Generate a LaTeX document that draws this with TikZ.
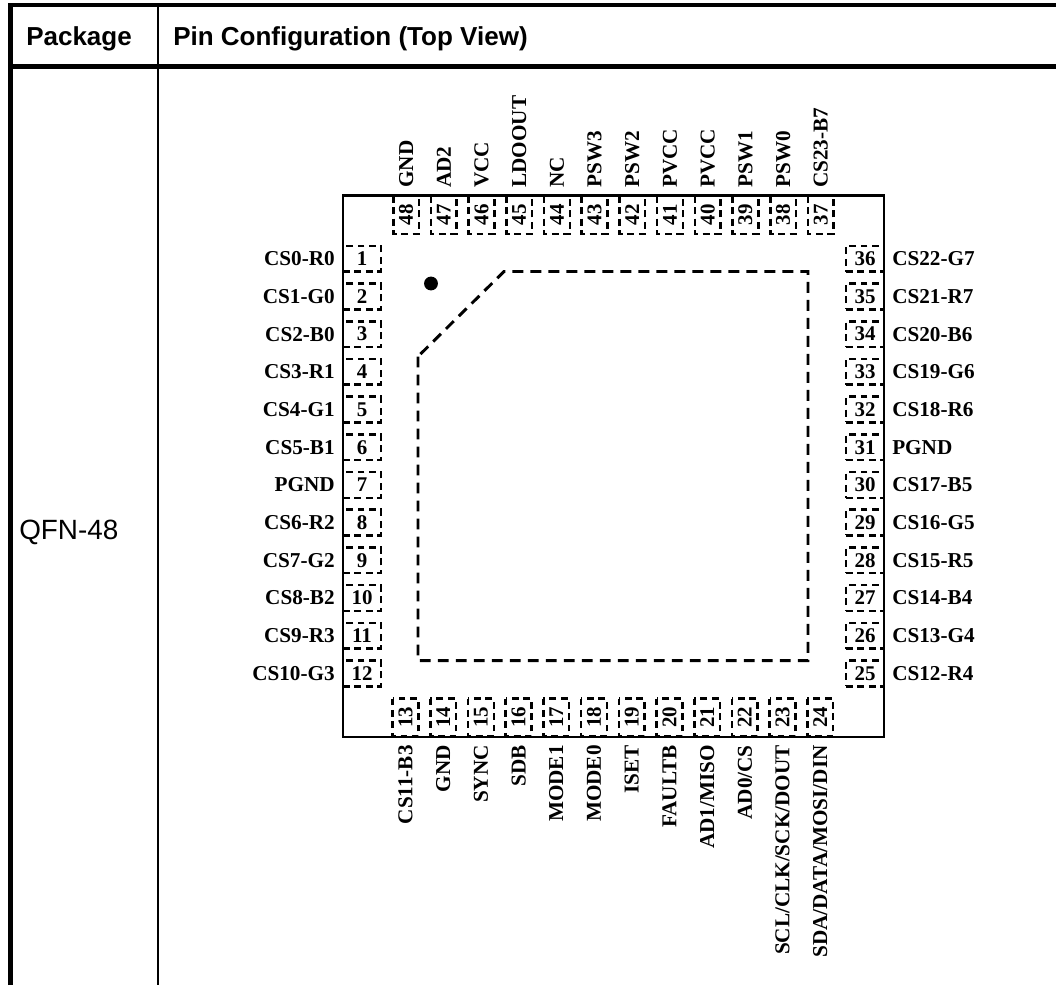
\documentclass[tikz,border=0pt]{standalone}
\usepackage{fontspec}
\setmainfont{Liberation Serif}
\setsansfont{Liberation Sans}
\usetikzlibrary{positioning}
\tikzset{
	pinbox/.style={draw, line width=1.9pt, dash pattern=on 5.2pt off 3.4pt, minimum width=28.5pt, minimum height=19.3pt, inner sep=0pt, font=\fontsize{15.7}{18}\selectfont\bfseries},
	pinlabel/.style={inner sep=0pt, font=\fontsize{15.9}{18}\selectfont\bfseries},
	headlabel/.style={inner sep=0pt, anchor=base west, font=\fontsize{19.5}{24}\selectfont\sffamily\bfseries}
}
\newcommand{\leftPin}[3]{
	\node[pinbox] (pin#1) at (362, #3) {#1};
	\node[pinlabel, anchor=east] (name#1) at (335, #3) {#2};
}
\newcommand{\rightPin}[3]{
	\node[pinbox] (pin#1) at (865, #3) {#1};
	\node[pinlabel, anchor=west] (name#1) at (892, #3) {#2};
}
\newcommand{\topPin}[3]{
	\node[pinbox, rotate=90] (pin#1) at (#3, 214.8) {#1};
	\node[pinlabel, anchor=west, rotate=90] (name#1) at (#3, 188) {#2};
}
\newcommand{\bottomPin}[3]{
	\node[pinbox, rotate=90] (pin#1) at (#3, 717.5) {#1};
	\node[pinlabel, anchor=east, rotate=90] (name#1) at (#3, 745) {#2};
}

\begin{document}
\begin{tikzpicture}[x=0.75pt, y=-0.75pt]
	\useasboundingbox (0,0) rectangle (1056,985);
	% table rules
	\draw[line width=3.7pt] (10.5,985) -- (10.5,5.1);
	\draw[line width=3.3pt] (8,5.1) -- (1056,5.1);
	\draw[line width=3.9pt] (8,66.2) -- (1056,66.2);
	\draw[line width=1.5pt] (158,5) -- (158,985);
	\node[headlabel] (package) at (26,45) {Package};
	\node[headlabel] (config) at (173,45) {Pin Configuration (Top View)};
	\node[inner sep=0pt, anchor=base west, font=\fontsize{20.9}{24}\selectfont\sffamily] (qfn) at (19,539) {QFN-48};

	% left side
	\leftPin{1}{CS0-R0}{258.7}
	\leftPin{2}{CS1-G0}{296.4}
	\leftPin{3}{CS2-B0}{334.1}
	\leftPin{4}{CS3-R1}{371.8}
	\leftPin{5}{CS4-G1}{409.5}
	\leftPin{6}{CS5-B1}{447.2}
	\leftPin{7}{PGND}{484.9}
	\leftPin{8}{CS6-R2}{522.6}
	\leftPin{9}{CS7-G2}{560.3}
	\leftPin{10}{CS8-B2}{598}
	\leftPin{11}{CS9-R3}{635.7}
	\leftPin{12}{CS10-G3}{673.4}
	% bottom side
	\bottomPin{13}{CS11-B3}{405.5}
	\bottomPin{14}{GND}{443.2}
	\bottomPin{15}{SYNC}{480.9}
	\bottomPin{16}{SDB}{518.6}
	\bottomPin{17}{MODE1}{556.3}
	\bottomPin{18}{MODE0}{594}
	\bottomPin{19}{ISET}{631.7}
	\bottomPin{20}{FAULTB}{669.4}
	\bottomPin{21}{AD1/MISO}{707.1}
	\bottomPin{22}{AD0/CS}{744.8}
	\bottomPin{23}{SCL/CLK/SCK/DOUT}{782.5}
	\bottomPin{24}{SDA/DATA/MOSI/DIN}{820.2}
	% right side
	\rightPin{25}{CS12-R4}{673.4}
	\rightPin{26}{CS13-G4}{635.7}
	\rightPin{27}{CS14-B4}{598}
	\rightPin{28}{CS15-R5}{560.3}
	\rightPin{29}{CS16-G5}{522.6}
	\rightPin{30}{CS17-B5}{484.9}
	\rightPin{31}{PGND}{447.2}
	\rightPin{32}{CS18-R6}{409.5}
	\rightPin{33}{CS19-G6}{371.8}
	\rightPin{34}{CS20-B6}{334.1}
	\rightPin{35}{CS21-R7}{296.4}
	\rightPin{36}{CS22-G7}{258.7}
	% top side
	\topPin{37}{CS23-B7}{820.8}
	\topPin{38}{PSW0}{783.1}
	\topPin{39}{PSW1}{745.4}
	\topPin{40}{PVCC}{707.7}
	\topPin{41}{PVCC}{670}
	\topPin{42}{PSW2}{632.3}
	\topPin{43}{PSW3}{594.6}
	\topPin{44}{NC}{556.9}
	\topPin{45}{LDOOUT}{519.2}
	\topPin{46}{VCC}{481.5}
	\topPin{47}{AD2}{443.8}
	\topPin{48}{GND}{406.1}

	% package body
	\draw[line width=1.8pt] (343,195.5) rectangle (884,736.7);
	\draw[line width=2.2pt, dash pattern=on 8.2pt off 5.3pt] (418,356.5) -- (418,660.7) -- (808,660.7) -- (808,271.5) -- (504,271.5) -- cycle;
	\fill (431,283.5) circle (5.2pt);
\end{tikzpicture}
\end{document}
